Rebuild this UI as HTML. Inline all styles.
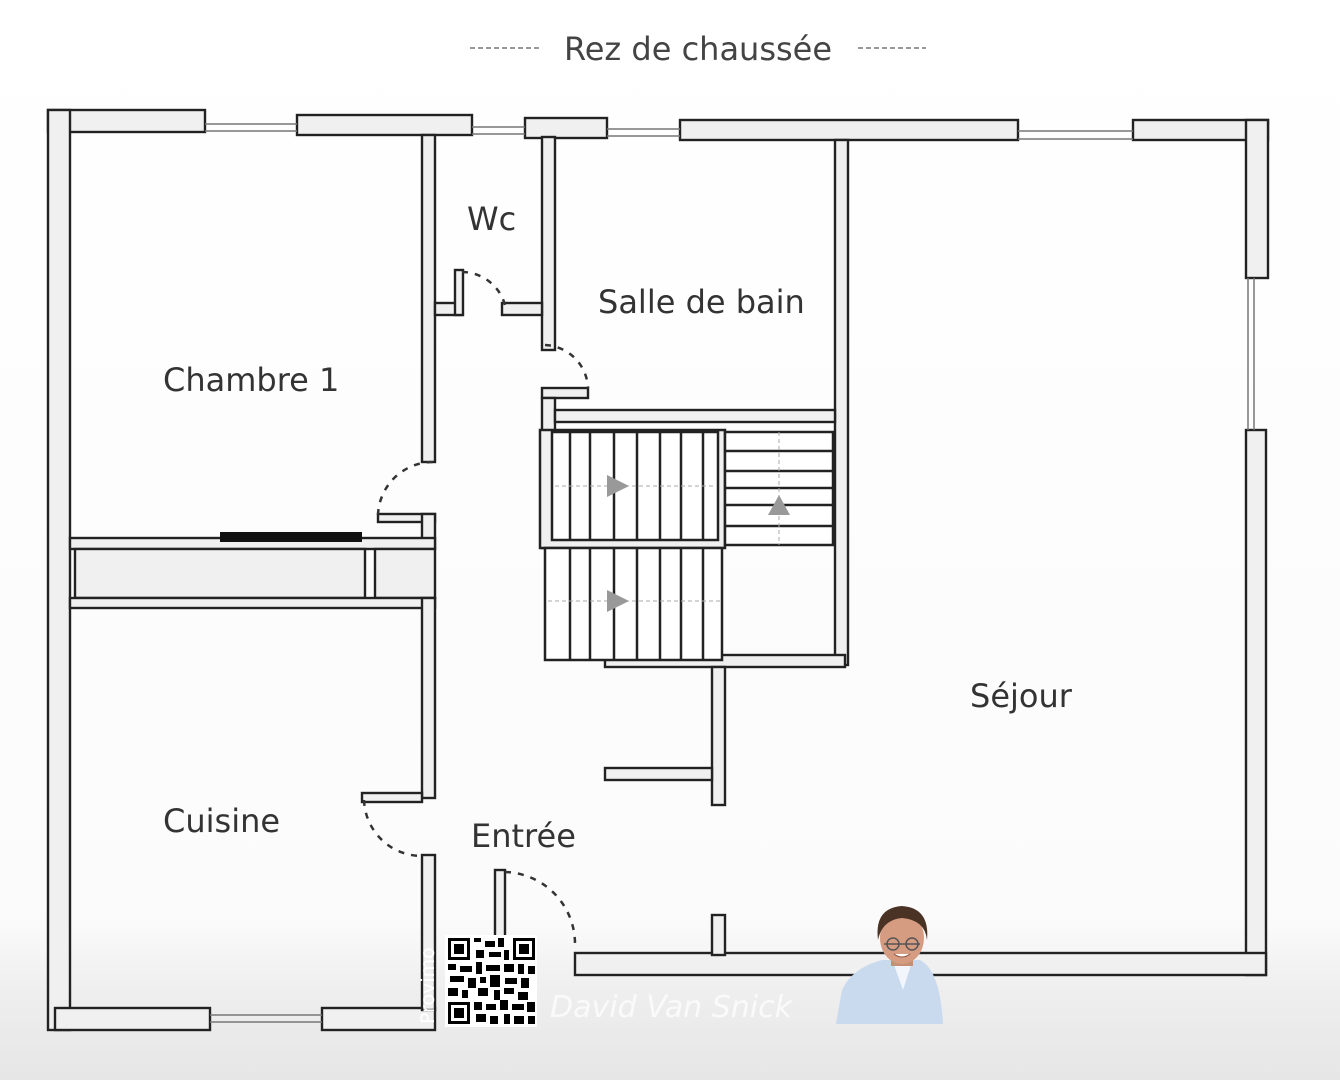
<!DOCTYPE html>
<html><head><meta charset="utf-8"><style>
html,body{margin:0;padding:0;background:#fff;}
svg{display:block}
text{font-family:"DejaVu Sans","Liberation Sans",sans-serif;}
</style></head><body>
<svg width="1340" height="1080" viewBox="0 0 1340 1080" xmlns="http://www.w3.org/2000/svg">
<defs>
<linearGradient id="bg" x1="0" y1="0" x2="0" y2="1">
<stop offset="0" stop-color="#ffffff"/><stop offset="0.85" stop-color="#fbfbfb"/><stop offset="0.92" stop-color="#eeeeee"/><stop offset="1" stop-color="#e6e6e6"/>
</linearGradient>
</defs>
<rect width="1340" height="1080" fill="url(#bg)"/>

<text x="698" y="60" font-size="32" fill="#444" text-anchor="middle">Rez de chaussée</text>
<line x1="470" y1="48" x2="540" y2="48" stroke="#999" stroke-width="2" stroke-dasharray="5,3"/>
<line x1="858" y1="48" x2="926" y2="48" stroke="#999" stroke-width="2" stroke-dasharray="5,3"/>

<g fill="#f0f0f0" stroke="#222" stroke-width="2.4">
<rect x="48" y="110" width="157" height="22"/>
<rect x="297" y="115" width="175" height="20"/>
<rect x="525" y="118" width="82" height="20"/>
<rect x="680" y="120" width="338" height="20"/>
<rect x="1133" y="120" width="135" height="20"/>
<rect x="48" y="110" width="22" height="920"/>
<rect x="1246" y="120" width="22" height="158"/>
<rect x="1246" y="430" width="20" height="545"/>
<rect x="575" y="953" width="691" height="22"/>
<rect x="712" y="915" width="13" height="40"/>
<rect x="55" y="1008" width="155" height="22"/>
<rect x="322" y="1008" width="113" height="22"/>
<rect x="422" y="135" width="13" height="327"/>
<rect x="435" y="303" width="27" height="12"/>
<rect x="455" y="270" width="8" height="45"/>
<rect x="542" y="137" width="13" height="213"/>
<rect x="502" y="303" width="40" height="12"/>
<rect x="835" y="140" width="13" height="525"/>
<rect x="542" y="388" width="46" height="10"/>
<rect x="542" y="398" width="13" height="150"/>
<rect x="555" y="410" width="280" height="12"/>
<rect x="378" y="514" width="57" height="8"/>
<rect x="422" y="514" width="13" height="34"/>
<rect x="70" y="538" width="365" height="11"/>
<rect x="75" y="549" width="290" height="49"/>
<rect x="375" y="549" width="60" height="49"/>
<rect x="70" y="598" width="365" height="10"/>
<rect x="422" y="598" width="13" height="200"/>
<rect x="362" y="793" width="60" height="9"/>
<rect x="422" y="855" width="13" height="155"/>
<rect x="495" y="870" width="10" height="85"/>
<rect x="605" y="655" width="240" height="12"/>
<rect x="712" y="667" width="13" height="138"/>
<rect x="605" y="768" width="107" height="12"/>
</g>
<rect x="220" y="532" width="142" height="10" fill="#111"/>
<g stroke="#777" stroke-width="1.5">
<line x1="205" y1="124" x2="297" y2="124"/><line x1="205" y1="131" x2="297" y2="131"/>
<line x1="472" y1="127" x2="525" y2="127"/><line x1="472" y1="134" x2="525" y2="134"/>
<line x1="607" y1="129" x2="680" y2="129"/><line x1="607" y1="136" x2="680" y2="136"/>
<line x1="1018" y1="131" x2="1133" y2="131"/><line x1="1018" y1="139" x2="1133" y2="139"/>
<line x1="1254" y1="278" x2="1254" y2="430"/><line x1="1248" y1="278" x2="1248" y2="430"/>
<line x1="210" y1="1015" x2="322" y2="1015"/><line x1="210" y1="1022" x2="322" y2="1022"/>
</g>

<g fill="none" stroke="#222" stroke-width="2.5">
<rect x="540" y="430" width="185" height="118" fill="#f0f0f0"/>
<rect x="552" y="432" width="166" height="108" fill="#fff"/>
<rect x="545" y="548" width="177" height="112" fill="#fff"/>
<rect x="725" y="432" width="108" height="113" fill="#fff"/>
<line x1="570" y1="432" x2="570" y2="540"/><line x1="590" y1="432" x2="590" y2="540"/>
<line x1="614" y1="432" x2="614" y2="540"/><line x1="637" y1="432" x2="637" y2="540"/>
<line x1="660" y1="432" x2="660" y2="540"/><line x1="681" y1="432" x2="681" y2="540"/>
<line x1="703" y1="432" x2="703" y2="540"/>
<line x1="570" y1="548" x2="570" y2="660"/><line x1="590" y1="548" x2="590" y2="660"/>
<line x1="614" y1="548" x2="614" y2="660"/><line x1="637" y1="548" x2="637" y2="660"/>
<line x1="660" y1="548" x2="660" y2="660"/><line x1="681" y1="548" x2="681" y2="660"/>
<line x1="703" y1="548" x2="703" y2="660"/>
<line x1="725" y1="451" x2="833" y2="451"/><line x1="725" y1="471" x2="833" y2="471"/>
<line x1="725" y1="488" x2="833" y2="488"/><line x1="725" y1="505" x2="833" y2="505"/>
<line x1="725" y1="526" x2="833" y2="526"/>
</g>
<g stroke="#aaa" stroke-width="1" stroke-dasharray="4,3">
<line x1="555" y1="486" x2="715" y2="486"/><line x1="548" y1="601" x2="720" y2="601"/>
<line x1="779" y1="432" x2="779" y2="545"/>
</g>
<g fill="#999">
<polygon points="607,475 629,486 607,497"/>
<polygon points="607,590 629,601 607,612"/>
<polygon points="768,515 779,495 790,515"/>
</g>

<g fill="none" stroke="#333" stroke-width="2.5" stroke-dasharray="6,7">
<path d="M378,515 A55,55 0 0 1 433,462"/>
<path d="M462,272 A45,45 0 0 1 505,305"/>
<path d="M545,345 A45,45 0 0 1 588,388"/>
<path d="M364,800 A58,58 0 0 0 422,856"/>
<path d="M505,872 A72,72 0 0 1 575,945"/>
</g>

<g font-size="32" fill="#333">
<text x="467" y="230">Wc</text>
<text x="598" y="313">Salle de bain</text>
<text x="163" y="391">Chambre 1</text>
<text x="970" y="707">Séjour</text>
<text x="163" y="832">Cuisine</text>
<text x="471" y="847">Entrée</text>
</g>

<rect x="445" y="935" width="92" height="92" fill="#fff"/>
<g fill="#000">
<rect x="448" y="938" width="22" height="22"/><rect x="513" y="938" width="22" height="22"/><rect x="448" y="1002" width="22" height="22"/>
</g>
<g fill="#fff"><rect x="451" y="941" width="16" height="16"/><rect x="516" y="941" width="16" height="16"/><rect x="451" y="1005" width="16" height="16"/></g>
<g fill="#000">
<rect x="454" y="944" width="10" height="10"/><rect x="519" y="944" width="10" height="10"/><rect x="454" y="1008" width="10" height="10"/>
<rect x="474" y="938" width="7" height="4"/><rect x="485" y="941" width="10" height="6"/><rect x="498" y="938" width="6" height="9"/>
<rect x="476" y="950" width="8" height="8"/><rect x="489" y="952" width="12" height="5"/><rect x="504" y="950" width="5" height="10"/>
<rect x="448" y="964" width="8" height="6"/><rect x="460" y="966" width="12" height="6"/><rect x="476" y="962" width="6" height="12"/>
<rect x="486" y="965" width="14" height="6"/><rect x="504" y="964" width="10" height="8"/><rect x="518" y="964" width="6" height="10"/>
<rect x="528" y="966" width="7" height="8"/><rect x="450" y="976" width="14" height="6"/><rect x="468" y="978" width="8" height="10"/>
<rect x="480" y="977" width="6" height="6"/><rect x="490" y="975" width="10" height="12"/><rect x="505" y="978" width="12" height="6"/>
<rect x="521" y="978" width="8" height="10"/><rect x="448" y="988" width="10" height="8"/><rect x="462" y="990" width="6" height="8"/>
<rect x="478" y="988" width="10" height="8"/><rect x="494" y="990" width="6" height="10"/><rect x="504" y="988" width="10" height="6"/>
<rect x="518" y="992" width="10" height="8"/><rect x="474" y="1002" width="8" height="8"/><rect x="486" y="1004" width="10" height="6"/>
<rect x="500" y="1000" width="8" height="10"/><rect x="512" y="1004" width="12" height="6"/><rect x="527" y="1002" width="8" height="10"/>
<rect x="476" y="1014" width="10" height="8"/><rect x="490" y="1016" width="8" height="8"/><rect x="504" y="1014" width="6" height="10"/>
<rect x="514" y="1016" width="10" height="8"/><rect x="528" y="1016" width="7" height="8"/>
</g>
<text x="0" y="0" font-size="19" fill="#fff" transform="translate(434,1024) rotate(-90)">Provimo</text>
<text x="550" y="1017" font-size="30" fill="#fff" font-style="italic" font-family="Liberation Serif,serif" opacity="0.75">David Van Snick</text>

<g>
<path d="M836,1024 L842,990 Q852,968 882,960 L920,960 Q940,970 943,1024 Z" fill="#c9d9ee"/>
<path d="M893,962 L903,990 L912,962 Z" fill="#f2f5fb"/>
<rect x="891" y="950" width="22" height="16" fill="#c48f74"/>
<ellipse cx="902" cy="938" rx="22" ry="26" fill="#d59c82"/>
<path d="M878,940 Q874,908 902,906 Q930,908 927,940 Q925,920 902,918 Q882,920 878,940 Z" fill="#4a3325"/>
<line x1="884" y1="944" x2="920" y2="944" stroke="#555" stroke-width="1.5"/>
<circle cx="893" cy="944" r="6" fill="none" stroke="#555" stroke-width="1.5"/>
<circle cx="912" cy="944" r="6" fill="none" stroke="#555" stroke-width="1.5"/>
<path d="M894,954 Q902,960 910,954" fill="#fff" stroke="#8a4a3a" stroke-width="1"/>
</g>
</svg>
</body></html>
